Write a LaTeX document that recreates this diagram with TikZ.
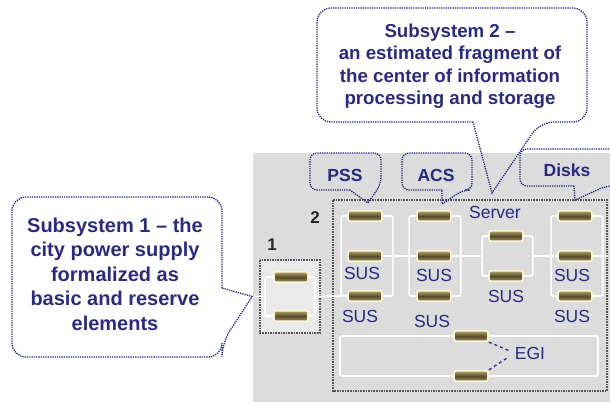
\documentclass[tikz,border=0pt]{standalone}
\usepackage{fontspec}
\setmainfont{Liberation Sans}
\usetikzlibrary{calc,positioning}
\definecolor{navy}{RGB}{42,42,130}
\definecolor{panel}{RGB}{220,220,220}
\definecolor{framegray}{RGB}{85,85,85}
\definecolor{glow}{RGB}{250,244,215}
\definecolor{tanlight}{RGB}{180,165,110}
\definecolor{tandark}{RGB}{88,78,42}
\tikzset{
    x=1pt,y=-1pt,
    cell/.style={rectangle, draw=glow, line width=1.8pt, rounded corners=2pt,
        minimum width=34pt, minimum height=10.5pt, inner sep=0pt,
        top color=tanlight, bottom color=tanlight!85!black, middle color=tandark},
    wire/.style={draw=white, line width=1.6pt, rounded corners=2pt},
    frame/.style={draw=framegray, densely dotted, line width=1.6pt},
    bubble/.style={draw=navy, densely dotted, line width=1.3pt},
    txt/.style={text=navy, font=\fontsize{17.5}{22.5}\selectfont\bfseries, align=center},
    lbl/.style={text=navy, font=\fontsize{17.5}{20}\selectfont, inner sep=0pt},
    num/.style={text=black!85, font=\fontsize{17}{20}\selectfont\bfseries, inner sep=0pt},
    link/.style={draw=navy, dashed, line width=1.3pt, shorten >=7pt}
}

\begin{document}
\begin{tikzpicture}
    \clip (0,0) rectangle (610,402);
    \fill[panel] (253,153) rectangle (610,402);

    % frames of the two subsystems
    \draw[frame, fill=panel!60!white] (260,260) rectangle (320,333);
    \draw[frame] (333,200) rectangle (607,391);
    \node[num] (n1) at (272,245) {1};
    \node[num] (n2) at (315,218) {2};

    % elements
    \node[cell] (a1) at (291,277) {};
    \node[cell] (a2) at (291,316) {};
    \node[cell] (p1) at (365,216) {};
    \node[cell] (p2) at (365,256) {};
    \node[cell] (p3) at (365,296) {};
    \node[cell] (c1) at (434,216) {};
    \node[cell] (c2) at (434,256) {};
    \node[cell] (c3) at (434,296) {};
    \node[cell] (s1) at (506,236) {};
    \node[cell] (s2) at (506,276) {};
    \node[cell] (d1) at (575,216) {};
    \node[cell] (d2) at (575,256) {};
    \node[cell] (d3) at (575,296) {};
    \node[cell] (e1) at (471,336) {};
    \node[cell] (e2) at (471,376) {};

    % brackets
    \draw[wire] (a1.west) -- ++(-8,0) |- (a2.west);
    \draw[wire] (a1.east) -- ++(6,0) |- (a2.east);
    \draw[wire] (p1.west) -- ++(-6,0) |- (p3.west);
    \draw[wire] (p1.east) -- ++(10,0) |- (p3.east);
    \draw[wire] (c1.west) -- ++(-7,0) |- (c3.west);
    \draw[wire] (c1.east) -- ++(9,0) |- (c3.east);
    \draw[wire] (s1.west) -- ++(-6,0) |- (s2.west);
    \draw[wire] (s1.east) -- ++(9,0) |- (s2.east);
    \draw[wire] (d1.west) -- ++(-6,0) |- (d3.west);
    \draw[wire] (d1.east) -- ++(10,0) |- (d3.east);
    \draw[wire] (e1.west) -| (340,376) -- (e2.west);
    \draw[wire] (e1.east) -| (598,376) -- (e2.east);

    % main line
    \draw[wire] ($(a1.west)!.5!(a2.west)+(-8,0)$) -- ++(-13,0) coordinate (in1);
    \draw[wire] ($(a1.east)!.5!(a2.east)+(6,0)$) -- ($(p3.west)+(-6,0)$);
    \draw[wire] (p2.east) -- (c2.west);
    \draw[wire] (c2.east) -- ($(s1.west)!.5!(s2.west)+(-6,0)$);
    \draw[wire] ($(s1.east)!.5!(s2.east)+(9,0)$) -- (d2.west);
    \draw[wire] (d2.east) -- ++(15,0);

    % labels
    \node[lbl] (l1) at (362,273) {SUS};
    \node[lbl] (l2) at (360,316) {SUS};
    \node[lbl] (l3) at (434,275) {SUS};
    \node[lbl] (l4) at (432,321) {SUS};
    \node[lbl] (l5) at (506,296) {SUS};
    \node[lbl] (l6) at (572,275) {SUS};
    \node[lbl] (l7) at (572,316) {SUS};
    \node[lbl] (srv) at (495,212) {Server};
    \node[lbl] (egi) at (530,353) {EGI};
    \draw[link] (e1.south east) -- (egi.west);
    \draw[link] (e2.north east) -- (egi.west);

    % callouts
    \node[txt] (pss) at (345,175) {PSS};
    \draw[bubble] (350,190) [rounded corners=7pt] -| (310,153) -| (381,184) [sharp corners] -- (368,203) -- cycle;
    \node[txt] (acs) at (436,175) {ACS};
    \draw[bubble] (442,190) [rounded corners=7pt] -| (402,153) -| (472,190) -- (463,190) [sharp corners] -- (442,204) -- cycle;
    \node[txt] (disks) at (567,170) {Disks};
    \draw[bubble] (574,186) [rounded corners=7pt] -| (520,149) -| (630,186) -- (606,186) [sharp corners] -- (575,200) -- cycle;
    \node[txt, font=\fontsize{18.7}{22.5}\selectfont\bfseries] (sub2) at (450,66) {Subsystem 2 --\\an estimated fragment of\\the center of information\\processing and storage};
    \draw[bubble] (473,122) [rounded corners=14pt] -| (317,8) -| (587,122) -- (540,122) [sharp corners] -- (492,193) -- cycle;
    \node[txt, font=\fontsize{20}{24.5}\selectfont\bfseries] (sub1) at (115,274) {Subsystem 1 -- the\\city power supply\\formalized as\\basic and reserve\\elements};
    \draw[bubble] (222,288) [rounded corners=14pt] |- (12,197) |- (222,357) -- (222,343) [sharp corners] -- (in1) -- cycle;
\end{tikzpicture}
\end{document}
